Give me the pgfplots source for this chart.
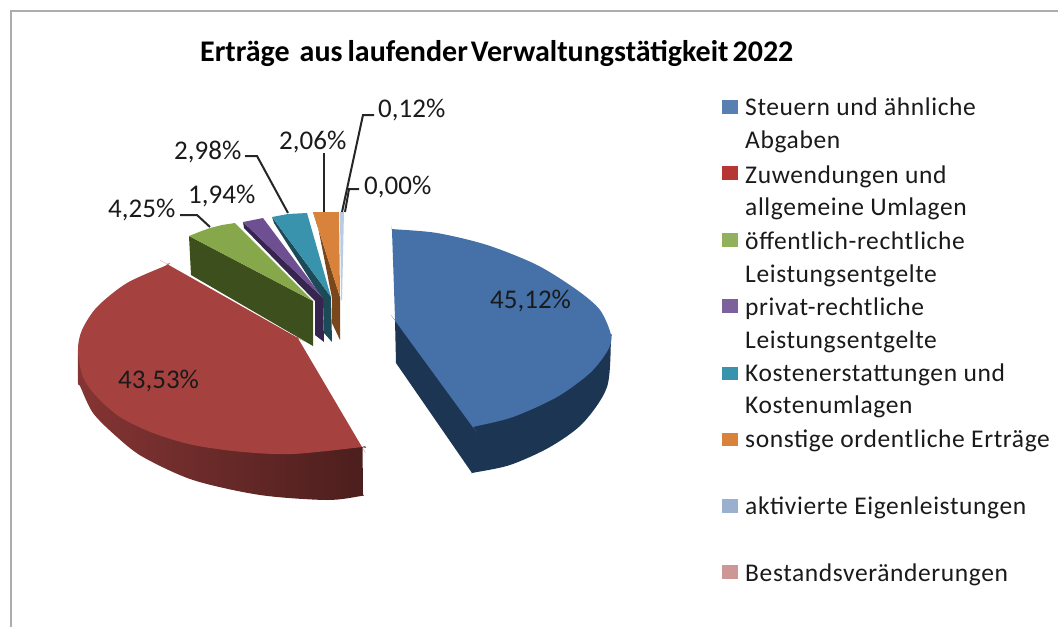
\documentclass[border=0pt]{standalone}
\usepackage{fontspec}
\setmainfont{Carlito}
\usepackage{pgfplots}
\pgfplotsset{compat=1.18}
\definecolor{cBlue}{HTML}{4571A8}
\definecolor{cBlueS}{HTML}{1C3553}
\definecolor{cRed}{HTML}{A54240}
\definecolor{cGreen}{HTML}{86A84A}
\definecolor{cGreenS}{HTML}{3D4F1C}
\definecolor{cPurple}{HTML}{6E4F92}
\definecolor{cPurpleS}{HTML}{36254E}
\definecolor{cTeal}{HTML}{3A93AC}
\definecolor{cTealS}{HTML}{1D4A57}
\definecolor{cOrange}{HTML}{D9823C}
\definecolor{cOrangeS}{HTML}{7A461C}
\definecolor{cSliver}{HTML}{B8CCE4}
\definecolor{txt}{HTML}{1A1A1A}
\newcommand{\lab}[3]{\node[anchor=base west,inner sep=0pt,text=txt,font=\fontsize{27}{30}\selectfont] at (axis cs:#1,#2) {#3};}
\newcommand{\leg}[3]{\node[anchor=base west,inner sep=0pt,text=txt,font=\fontsize{25.5}{30}\selectfont\addfontfeatures{LetterSpace=2.4}] at (axis cs:#1,#2) {#3};}
\begin{document}
\begin{tikzpicture}[x=1pt,y=1pt]
\path[use as bounding box] (0,0) rectangle (1058,627);
\begin{axis}[at={(0,0)},anchor=south west,scale only axis,width=1058pt,height=627pt,
  xmin=0,xmax=1058,ymin=0,ymax=627,y dir=reverse,hide axis,clip=false,
  every axis plot/.append style={no markers,forget plot},
  side/.style={draw=none,smooth},
  leader/.style={draw=black!85,line width=2pt,sharp plot}]
% frame
\addplot[draw=black!32,line width=2pt,sharp plot] coordinates {(11,627)(11,11)(1058,11)};
% small slices: sides then tops
\addplot[draw=none,fill=cOrangeS,sharp plot] coordinates {(313,212)(317,222)(332,298)(332,323)(340,340)(340,297)};
\addplot[draw=none,fill=cOrange,sharp plot] coordinates {(313,212)(339,212)(340,297)};
\addplot[draw=none,fill=cSliver,sharp plot] coordinates {(340,212)(344,212)(342,300)(341,300)};
\addplot[draw=none,fill=cTealS,sharp plot] coordinates {(272,217)(274,223)(323,300)(324,333)(332,342)(331,297)};
\addplot[draw=none,fill=cTeal,sharp plot] coordinates {(272,217)(288,214)(307,213)(331,297)};
\addplot[draw=none,fill=cPurpleS,sharp plot] coordinates {(243,222)(244,228)(315,301)(315,335)(324,342)(323,298)};
\addplot[draw=none,fill=cPurple,sharp plot] coordinates {(243,222)(263,218)(323,298)};
\addplot[draw=none,fill=cGreenS,sharp plot] coordinates {(189,236)(191,275)(313,346)(313,301)};
\addplot[draw=none,fill=cGreen,sharp plot] coordinates {(189,236)(199,232)(210,228)(222,225)(235,223)(313,301)};
% red slice
\addplot[side,left color=cRed!80!black,right color=cRed!45!black] coordinates {
 (78,345)(78,350)(78,383)(80,386)(93,413)(117,437)(143,457)(193,480)(260,495)(327,500)(361,496)(363,495)(363,493)(362.5,449)(362,447)
 (293,430)(150,400)(78,345)};
\addplot[side,fill=cRed] coordinates {
 (166,265.5)(167,264)(168,264.6)(127,283)(97,307)(82,330)(78,350)(83,377)(97,397)(120,417)(153,433)(193,445)(243,452)(293,454)(360,447.3)(362,447)(361.4,446)
 (299,340)(298,338)(296,336.9)(168,264.6)(167,264)};
% blue slice
\addplot[draw=none,fill=cBlueS,sharp plot] coordinates {(395,320)(396,363)(472,473)(520,440)(480,420)};
\addplot[side,fill=cBlueS] coordinates {
 (472,471)(472,473)(474,472.6)(510,465)(550,447)(583,423)(607,387)(611,340)(611,335)(600,350)(520,400)(473,427)(472,471)};
\addplot[side,fill=cBlue] coordinates {
 (392,231)(392,229)(394,229.2)(437,233)(487,245)(537,265)(577,290)(600,310)(611,335)(608,350)(590,373)(557,397)(513,417)(475,426.5)(473,427)(472,426)
 (396,322)(395,320)(395,318)(392,231)(392,229)};
% leaders
\addplot[leader] coordinates {(180,215)(197,215)(210,227)};
\addplot[leader] coordinates {(245,156)(257,156)(288,213)};
\addplot[leader] coordinates {(324,153)(324,212)};
\addplot[leader] coordinates {(374,115)(363,115)(342,212)};
\addplot[leader] coordinates {(359,189)(349,189)(345,212)};
% legend swatches
\addplot[draw=none,fill=cBlue!90!white,sharp plot] coordinates {(722,100)(738,100)(738,114)(722,114)};
\addplot[draw=none,fill=red!20!cRed,sharp plot] coordinates {(722,166)(738,166)(738,180)(722,180)};
\addplot[draw=none,fill=cGreen!90!white,sharp plot] coordinates {(722,233)(738,233)(738,247)(722,247)};
\addplot[draw=none,fill=cPurple!90!white,sharp plot] coordinates {(722,299)(738,299)(738,313)(722,313)};
\addplot[draw=none,fill=cTeal,sharp plot] coordinates {(722,367)(738,367)(738,380)(722,380)};
\addplot[draw=none,fill=cOrange,sharp plot] coordinates {(722,433)(738,433)(738,446)(722,446)};
\addplot[draw=none,fill=cBlue!55!white,sharp plot] coordinates {(722,499)(738,499)(738,513)(722,513)};
\addplot[draw=none,fill=cRed!55!white,sharp plot] coordinates {(722,565)(738,565)(738,579)(722,579)};
% texts
\node[anchor=base west,inner sep=0pt,font=\fontsize{30}{32}\selectfont\bfseries,text=black] at (axis cs:200,61) {\spaceskip=3pt Erträge\hspace{7pt} aus\hspace{2pt} laufender Verwaltungstätigkeit\hspace{1pt} 2022};
\lab{490}{308}{45,12\%}
\lab{118}{388}{43,53\%}
\lab{108}{217}{4,25\%}
\lab{188}{203}{1,94\%}
\lab{174}{159}{2,98\%}
\lab{279}{149}{2,06\%}
\lab{378}{117}{0,12\%}
\lab{364}{194}{0,00\%}
\leg{745}{115}{Steuern und ähnliche}
\leg{745}{148}{Abgaben}
\leg{745}{183}{Zuwendungen und}
\leg{745}{215}{allgemeine Umlagen}
\leg{745}{249}{öffentlich-rechtliche}
\leg{745}{282}{Leistungsentgelte}
\leg{745}{315}{privat-rechtliche}
\leg{745}{348}{Leistungsentgelte}
\leg{745}{381}{Kostenerstattungen und}
\leg{745}{413}{Kostenumlagen}
\leg{745}{447}{sonstige ordentliche Erträge}
\leg{745}{514}{aktivierte Eigenleistungen}
\leg{745}{581}{Bestandsveränderungen}
\end{axis}
\end{tikzpicture}
\end{document}
